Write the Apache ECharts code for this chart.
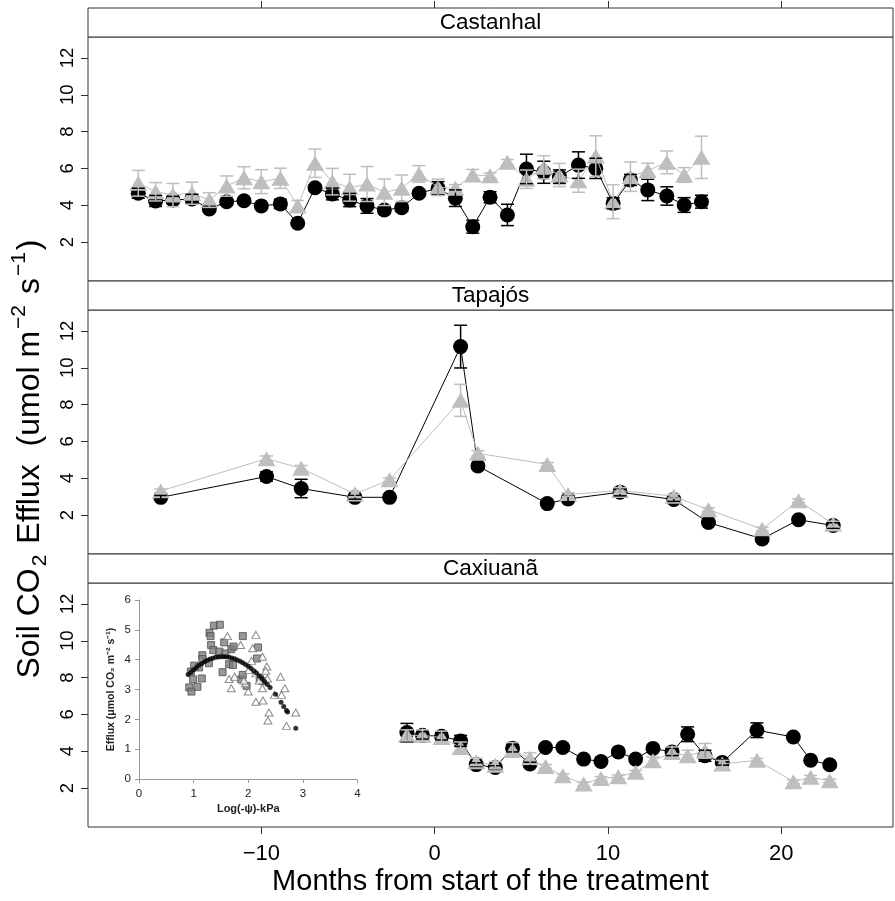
<!DOCTYPE html>
<html>
<head>
<meta charset="utf-8">
<script src="https://cdn.jsdelivr.net/npm/echarts@6/dist/echarts.min.js"></script>
<style>
  html, body { margin: 0; padding: 0; background: #fff; }
  #chart { width: 895px; height: 901px; }
</style>
</head>
<body>
<div id="chart"></div>
<script>
// Castanhal
const castMonths = [-17.1, -16.1, -15.1, -14.0, -13.0, -12.0, -11.0, -10.0, -8.9, -7.9, -6.9, -5.9, -4.9, -3.9, -2.9, -1.9, -0.9, 0.2, 1.2, 2.2, 3.2, 4.2, 5.3, 6.3, 7.2, 8.3, 9.3, 10.3, 11.3, 12.3, 13.4, 14.4, 15.4]
const castBlack = [4.65, 4.23, 4.28, 4.34, 3.79, 4.19, 4.24, 3.96, 4.07, 3.02, 4.95, 4.61, 4.28, 3.96, 3.74, 3.86, 4.65, 4.92, 4.38, 2.83, 4.43, 3.47, 5.97, 5.79, 5.55, 6.18, 6.0, 4.10, 5.37, 4.83, 4.5, 4.01, 4.19]
const castBlackSE = [0.27, 0.3, 0.2, 0.25, 0.15, 0.1, 0.1, 0.1, 0.25, 0.15, 0.15, 0.32, 0.36, 0.4, 0.2, 0.2, 0.15, 0.36, 0.45, 0.35, 0.3, 0.58, 0.8, 0.6, 0.37, 0.72, 0.55, 0.3, 0.3, 0.58, 0.5, 0.4, 0.35]
const castGray = [5.19, 4.73, 4.55, 4.65, 4.28, 5.04, 5.49, 5.28, 5.46, 3.96, 6.28, 5.28, 4.95, 5.15, 4.7, 4.92, 5.7, 4.97, 4.92, 5.64, 5.6, 6.33, 5.41, 6.06, 5.64, 5.33, 6.67, 4.19, 5.55, 5.88, 6.33, 5.64, 6.6]
const castGraySE = [0.7, 0.5, 0.63, 0.6, 0.4, 0.55, 0.6, 0.65, 0.55, 0.3, 0.77, 0.72, 0.73, 0.95, 0.72, 0.72, 0.45, 0.45, 0.2, 0.3, 0.15, 0.15, 0.5, 0.63, 0.63, 0.63, 1.1, 0.92, 0.8, 0.4, 0.62, 0.4, 1.15]

// Tapajós
const tapMonths = [-15.8, -9.7, -7.7, -4.6, -2.6, 1.5, 2.5, 6.5, 7.7, 10.7, 13.8, 15.8, 18.9, 21.0, 23.0]
const tapBlack = [2.96, 4.09, 3.44, 2.96, 2.96, 11.15, 4.66, 2.62, 2.87, 3.24, 2.84, 1.59, 0.70, 1.74, 1.43]
const tapBlackSE = [0.1, 0.25, 0.5, 0.1, 0.05, 1.16, 0.15, 0.1, 0.15, 0.2, 0.1, 0.1, 0.1, 0.1, 0.15]
const tapGray = [3.31, 5.06, 4.54, 3.14, 3.91, 8.23, 5.35, 4.75, 3.11, 3.33, 3.02, 2.29, 1.23, 2.78, 1.51]
const tapGraySE = [0.1, 0.15, 0.15, 0.15, 0.1, 0.87, 0.15, 0.1, 0.1, 0.15, 0.1, 0.1, 0.1, 0.1, 0.15]

// Caxiuanã
const caxMonths = [-1.6, -0.7, 0.4, 1.5, 2.4, 3.5, 4.5, 5.5, 6.4, 7.4, 8.6, 9.6, 10.6, 11.6, 12.6, 13.7, 14.6, 15.6, 16.6, 18.6, 20.7, 21.7, 22.8]
const caxBlack = [5.01, 4.86, 4.81, 4.56, 3.27, 3.11, 4.16, 3.30, 4.2, 4.2, 3.57, 3.44, 3.96, 3.57, 4.15, 3.96, 4.92, 3.75, 3.39, 5.14, 4.77, 3.51, 3.26]
const caxBlackSE = [0.5, 0.2, 0.2, 0.3, 0.1, 0.1, 0.2, 0.1, 0.1, 0.1, 0.1, 0.1, 0.1, 0.1, 0.1, 0.2, 0.4, 0.3, 0.15, 0.4, 0.1, 0.1, 0.1]
const caxGray = [4.86, 4.86, 4.74, 4.2, 3.42, 3.24, 4.07, 3.61, 3.17, 2.66, 2.22, 2.52, 2.61, 2.85, 3.48, 3.93, 3.75, 4.02, 3.3, 3.51, 2.34, 2.58, 2.39]
const caxGraySE = [0.3, 0.3, 0.35, 0.3, 0.2, 0.2, 0.4, 0.3, 0.1, 0.1, 0.1, 0.1, 0.1, 0.1, 0.2, 0.3, 0.3, 0.4, 0.2, 0.1, 0.1, 0.1, 0.1]

const siteNames = ['Castanhal', 'Tapajós', 'Caxiuanã']
const xTicks = [-10, 0, 10, 20]
const yTicks = [2, 4, 6, 8, 10, 12]

// inset (efflux vs soil water potential)
const insetSquares = [[0.92, 3.07], [0.96, 2.93], [0.99, 3.34], [0.95, 3.6], [1.01, 3.80], [1.07, 3.09], [1.10, 3.74], [1.15, 3.37], [1.16, 4.15], [1.16, 4.02], [1.28, 3.88], [1.29, 4.90], [1.31, 4.79], [1.32, 4.49], [1.36, 4.32], [1.37, 5.14], [1.48, 5.17], [1.47, 4.27], [1.56, 4.58], [1.58, 4.21], [1.53, 3.58], [1.65, 3.85], [1.72, 3.82], [1.69, 4.35], [1.73, 4.44], [1.90, 4.79], [1.87, 3.34], [1.90, 3.49], [1.97, 3.12], [2.16, 4.04], [2.18, 4.41], [2.21, 3.37], [2.26, 3.28]]
const insetTriangles = [[1.62, 4.79], [2.14, 4.83], [1.86, 4.49], [2.08, 4.38], [2.26, 4.1], [2.06, 3.96], [2.01, 3.65], [2.34, 3.77], [2.32, 3.63], [2.14, 3.54], [2.35, 3.37], [1.65, 3.35], [1.75, 3.43], [1.69, 3.04], [1.95, 3.21], [2.0, 2.93], [2.26, 3.04], [2.59, 3.43], [2.14, 2.59], [2.27, 2.63], [2.48, 2.82], [2.61, 2.82], [2.67, 3.04], [2.38, 2.23], [2.36, 1.96], [2.87, 2.23], [2.7, 1.78], [1.92, 3.3], [2.2, 3.3]]
const insetFit = [[0.90, 3.50], [0.95, 3.58], [1.00, 3.66], [1.05, 3.74], [1.10, 3.81], [1.15, 3.87], [1.20, 3.93], [1.25, 3.98], [1.30, 4.02], [1.35, 4.05], [1.40, 4.08], [1.45, 4.09], [1.50, 4.10], [1.55, 4.10], [1.60, 4.10], [1.65, 4.08], [1.70, 4.06], [1.75, 4.03], [1.80, 3.99], [1.85, 3.95], [1.90, 3.90], [1.95, 3.84], [2.00, 3.78], [2.05, 3.71], [2.10, 3.63], [2.15, 3.55], [2.20, 3.46], [2.25, 3.37], [2.30, 3.27], [2.35, 3.17], [2.40, 3.07], [2.50, 2.84], [2.60, 2.57], [2.65, 2.43], [2.70, 2.30], [2.72, 2.25], [2.87, 1.70]]

const FONT = "'Liberation Sans', Arial, Helvetica, sans-serif"
const GRAY = '#bebebe'
const FRAME = '#333'

const panels = [
  { months: castMonths, black: castBlack, blackSE: castBlackSE, gray: castGray, graySE: castGraySE },
  { months: tapMonths, black: tapBlack, blackSE: tapBlackSE, gray: tapGray, graySE: tapGraySE },
  { months: caxMonths, black: caxBlack, blackSE: caxBlackSE, gray: caxGray, graySE: caxGraySE }
]

const plotLeft = 88
const plotWidth = 805
const stripH = 29
const panelH = 244
const firstTop = 8

function panelTop (i) {
  return firstTop + stripH + i * (stripH + panelH)
}

function errorBars (color) {
  return function (params, api) {
    const x = api.value(0)
    const lo = api.coord([x, api.value(1)])
    const hi = api.coord([x, api.value(2)])
    const w = 6.5
    const style = { stroke: color, lineWidth: 1.5 }
    return {
      type: 'group',
      children: [
        { type: 'line', shape: { x1: lo[0], y1: lo[1], x2: hi[0], y2: hi[1] }, style },
        { type: 'line', shape: { x1: lo[0] - w, y1: lo[1], x2: lo[0] + w, y2: lo[1] }, style },
        { type: 'line', shape: { x1: hi[0] - w, y1: hi[1], x2: hi[0] + w, y2: hi[1] }, style }
      ]
    }
  }
}

const grids = []
const xAxes = []
const yAxes = []
const series = []
const graphics = []

panels.forEach((p, i) => {
  const top = panelTop(i)
  grids.push({
    left: plotLeft, top: top, width: plotWidth, height: panelH,
    show: true, borderColor: FRAME, borderWidth: 1, backgroundColor: 'transparent'
  })
  const isTop = i === 0
  const isBottom = i === panels.length - 1
  xAxes.push({
    type: 'value', gridIndex: i, min: -20, max: 26.45,
    position: isTop ? 'top' : 'bottom',
    offset: isTop ? stripH : 0,
    axisLine: { show: false, onZero: false },
    splitLine: { show: false },
    axisTick: { show: isTop || isBottom, length: 7, customValues: xTicks, lineStyle: { color: FRAME } },
    axisLabel: {
      show: isBottom, customValues: xTicks, margin: 16,
      fontSize: 22, fontFamily: FONT, color: '#000',
      formatter: v => String(v).replace('-', '\u2212')
    },
    name: isBottom ? 'Months from start of the treatment' : '',
    nameLocation: 'middle', nameGap: 40,
    nameTextStyle: { fontSize: 29, fontFamily: FONT, color: '#000' }
  })
  yAxes.push({
    type: 'value', gridIndex: i, min: -0.12, max: 13.14,
    position: 'left',
    axisLine: { show: false, onZero: false },
    splitLine: { show: false },
    axisTick: { show: true, length: 7, customValues: yTicks, lineStyle: { color: FRAME } },
    axisLabel: { customValues: yTicks, rotate: 90, margin: 11, fontSize: 18.5, fontFamily: FONT, color: '#000' }
  })

  series.push({
    type: 'line', xAxisIndex: i, yAxisIndex: i, z: 2,
    data: p.months.map((m, k) => [m, p.black[k]]),
    symbol: 'circle', symbolSize: 15, showSymbol: true,
    itemStyle: { color: '#000' }, lineStyle: { color: '#000', width: 1 },
    animation: false
  })
  series.push({
    type: 'line', xAxisIndex: i, yAxisIndex: i, z: 3,
    data: p.months.map((m, k) => [m, p.gray[k]]),
    symbol: 'triangle', symbolSize: [18, 15], showSymbol: true,
    itemStyle: { color: GRAY }, lineStyle: { color: GRAY, width: 1 },
    animation: false
  })
  series.push({
    type: 'custom', xAxisIndex: i, yAxisIndex: i, z: 4,
    data: p.months.map((m, k) => [m, p.black[k] - p.blackSE[k], p.black[k] + p.blackSE[k]]),
    renderItem: errorBars('#000'), animation: false
  })
  series.push({
    type: 'custom', xAxisIndex: i, yAxisIndex: i, z: 5,
    data: p.months.map((m, k) => [m, p.gray[k] - p.graySE[k], p.gray[k] + p.graySE[k]]),
    renderItem: errorBars(GRAY), animation: false
  })

  // strip with the site name
  graphics.push({
    type: 'rect', z: 10,
    shape: { x: plotLeft, y: top - stripH, width: plotWidth, height: stripH },
    style: { fill: '#fff', stroke: FRAME, lineWidth: 1 }
  })
  graphics.push({
    type: 'text', z: 11, x: plotLeft + plotWidth / 2, y: top - stripH / 2,
    style: { text: siteNames[i], align: 'center', verticalAlign: 'middle', fontSize: 22.5, fontFamily: FONT, fill: '#000' }
  })
})

// inset grid
grids.push({ left: 139, top: 600, width: 218.5, height: 179, show: false })
xAxes.push({
  type: 'value', gridIndex: 3, min: 0, max: 4, interval: 1,
  axisLine: { onZero: false, lineStyle: { color: '#999' } },
  axisTick: { length: 4, lineStyle: { color: '#999' } },
  splitLine: { show: false },
  axisLabel: { fontSize: 11.5, fontFamily: FONT, color: '#222', margin: 9 },
  name: 'Log(-\u03c8)-kPa', nameLocation: 'middle', nameGap: 24,
  nameTextStyle: { fontSize: 11, fontWeight: 'bold', fontFamily: FONT, color: '#222' }
})
yAxes.push({
  type: 'value', gridIndex: 3, min: 0, max: 6, interval: 1,
  axisLine: { show: true, onZero: false, lineStyle: { color: '#999' } },
  axisTick: { show: true, length: 4, lineStyle: { color: '#999' } },
  splitLine: { show: false },
  axisLabel: { fontSize: 11.5, fontFamily: FONT, color: '#222', margin: 8 },
  name: 'Efflux (\u03bcmol CO\u2082 m\u207b\u00b2 s\u207b\u00b9)', nameLocation: 'middle', nameGap: 22,
  nameTextStyle: { fontSize: 10.5, fontWeight: 'bold', fontFamily: FONT, color: '#222' }
})
series.push({
  type: 'scatter', xAxisIndex: 3, yAxisIndex: 3, data: insetSquares, z: 6,
  symbol: 'rect', symbolSize: 7,
  itemStyle: { color: '#808080', borderColor: '#4d4d4d', borderWidth: 1 }, animation: false
})
series.push({
  type: 'scatter', xAxisIndex: 3, yAxisIndex: 3, data: insetTriangles, z: 6,
  symbol: 'triangle', symbolSize: [8, 7],
  itemStyle: { color: '#fff', borderColor: '#6e6e6e', borderWidth: 1 }, animation: false
})
series.push({
  type: 'scatter', xAxisIndex: 3, yAxisIndex: 3, data: insetFit, z: 7,
  symbol: 'circle', symbolSize: 5,
  itemStyle: { color: '#000' }, animation: false
})

// y axis title with sub/superscripts
graphics.push({
  type: 'text', x: 30, y: 459, rotation: Math.PI / 2,
  style: {
    text: '{a|Soil CO}{b|2}{a| Efflux  (umol m}{c|\u22122}{a| s}{c|\u22121}{a|)}',
    align: 'center', verticalAlign: 'middle', fill: '#000',
    rich: {
      a: { fontSize: 32, fontFamily: FONT, lineHeight: 42 },
      b: { fontSize: 21, fontFamily: FONT, lineHeight: 18, verticalAlign: 'bottom', padding: [0, 2, 0, 2] },
      c: { fontSize: 21, fontFamily: FONT, lineHeight: 18, verticalAlign: 'top', padding: [0, 2, 0, 2] }
    }
  }
})

const chart = echarts.init(document.getElementById('chart'), null, { renderer: 'canvas' })
chart.setOption({
  animation: false,
  backgroundColor: '#fff',
  grid: grids,
  xAxis: xAxes,
  yAxis: yAxes,
  series: series,
  graphic: graphics
})
</script>
</body>
</html>
